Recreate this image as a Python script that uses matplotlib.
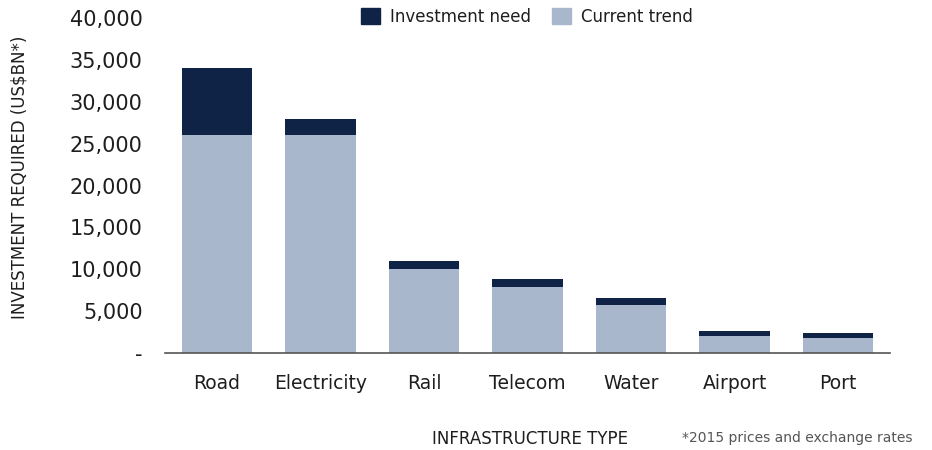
import matplotlib
matplotlib.use("Agg")
import matplotlib.pyplot as plt
from matplotlib.patches import Patch

categories = ["Road", "Electricity", "Rail", "Telecom", "Water", "Airport", "Port"]
current_trend = [26000, 26000, 10000, 7900, 5700, 2000, 1750]
investment_need_total = [34000, 27900, 11000, 8850, 6550, 2600, 2350]
gap = [t - c for t, c in zip(investment_need_total, current_trend)]
yticks = [0, 5000, 10000, 15000, 20000, 25000, 30000, 35000, 40000]
ytick_labels = ["-", "5,000", "10,000", "15,000", "20,000", "25,000", "30,000", "35,000", "40,000"]

plt.rcParams['font.family'] = ['DejaVu Sans']
dark = "#0f2347"
light = "#a8b7cc"
text_c = "#1e1e1e"

fig = plt.figure(figsize=(9.32, 4.5), dpi=100)
ax = fig.add_axes([0.177, 1 - 353/450, 0.955 - 0.177, (353 - 18)/450])
x = list(range(len(categories)))
ax.bar(x, current_trend, width=0.68, color=light, edgecolor="none")
ax.bar(x, gap, bottom=current_trend, width=0.68, color=dark, edgecolor="none")
ax.set_xlim(-0.5, 6.5)
ax.set_ylim(0, 40000)
ax.set_yticks(yticks)
ax.set_yticklabels(ytick_labels, fontsize=15, color=text_c)
ax.set_xticks(x)
ax.set_xticklabels(categories, fontsize=13.5, color=text_c)
ax.tick_params(axis='both', length=0)
ax.tick_params(axis='y', pad=16)
ax.tick_params(axis='x', pad=15)
for s in ["top", "right", "left"]:
    ax.spines[s].set_visible(False)
ax.spines["bottom"].set_color("#555555")
ax.spines["bottom"].set_linewidth(1.2)

fig.text(20/932, 1 - 177/450, "INVESTMENT REQUIRED (US$BN*)", rotation=90,
         ha="center", va="center", fontsize=12, color=text_c)
fig.text(530/932, 1 - 439/450, "INFRASTRUCTURE TYPE", ha="center", va="center",
         fontsize=12, color=text_c)
fig.text(682/932, 1 - 438/450, "*2015 prices and exchange rates", ha="left", va="center",
         fontsize=10, color="#555555")

handles = [Patch(color=dark, label="Investment need"), Patch(color=light, label="Current trend")]
fig.legend(handles=handles, loc="center", bbox_to_anchor=(527/932, 1 - 17/450), ncol=2,
           frameon=False, fontsize=12, handlelength=1.1, handleheight=1.1,
           columnspacing=1.3, handletextpad=0.6, labelcolor=text_c)

fig.savefig("out.png", dpi=100)
